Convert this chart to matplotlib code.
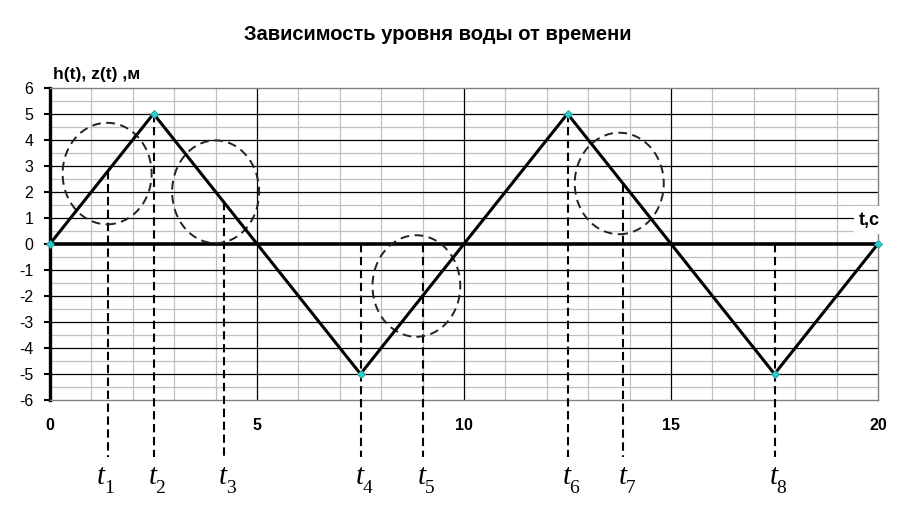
import matplotlib
matplotlib.use("Agg")
import matplotlib.pyplot as plt
from matplotlib.patches import Ellipse
import numpy as np

# ---- data ----
t_points = [0, 2.5, 7.5, 12.5, 17.5, 20]
h_points = [0, 5, -5, 5, -5, 0]

t_marks = [1.4, 2.5, 4.2, 7.5, 9.0, 12.5, 13.85, 17.5]
t_marks_top = [2.8, 5, 1.6, 0, 0, 5, 2.3, 0]
t_mark_labels = ["1", "2", "3", "4", "5", "6", "7", "8"]

circle_cx = [1.38, 4.0, 8.85, 13.75]
circle_cy = [2.7, 2.0, -1.62, 2.32]
circle_w = [2.15, 2.1, 2.12, 2.15]
circle_h = [3.9, 3.95, 3.9, 3.9]

x_ticks = [0, 5, 10, 15, 20]
y_ticks = list(range(-6, 7))

title = "Зависимость уровня воды от времени"
y_label = "h(t), z(t) ,м"
x_label = "t,c"

# ---- figure ----
plt.rcParams['font.family'] = ['Liberation Sans', 'DejaVu Sans']
fig = plt.figure(figsize=(9.01, 5.25), dpi=100)
ax = fig.add_axes([50/901, 1-400/525, 828/901, (400-87.7)/525])
ax.set_xlim(0, 20)
ax.set_ylim(-6, 6)

# grid
for x in np.arange(1, 20, 1):
    if x % 5 == 0:
        ax.axvline(x, color='black', lw=0.9, zorder=1)
    else:
        ax.axvline(x, color='#c0c0c0', lw=0.9, zorder=0.5)
for y in np.arange(-5.5, 6, 0.5):
    if float(y).is_integer():
        if y != 0:
            ax.axhline(y, color='black', lw=0.9, zorder=1)
    else:
        ax.axhline(y, color='#c0c0c0', lw=0.9, zorder=0.5)
ax.axhline(0, color='black', lw=2.6, zorder=2)

for s in ['top', 'right', 'bottom']:
    ax.spines[s].set_color('#808080')
    ax.spines[s].set_linewidth(1.0)
ax.spines['left'].set_color('black')
ax.spines['left'].set_linewidth(2.4)

ax.set_xticks(x_ticks)
ax.set_xticklabels([str(v) for v in x_ticks], fontweight='bold', fontsize=11.5)
ax.set_yticks(y_ticks)
ax.set_yticklabels([str(v) for v in y_ticks], fontsize=11.5)
ax.tick_params(axis='x', length=0, pad=13)
ax.tick_params(axis='y', length=4, width=1.5, pad=8, direction='out')

# dashed verticals
for tm, top in zip(t_marks, t_marks_top):
    ax.plot([tm, tm], [top, -8.2], color='black', lw=1.5,
            linestyle=(0, (4, 2.2)), clip_on=False, zorder=3)

# ellipses
for cx, cy, w, h in zip(circle_cx, circle_cy, circle_w, circle_h):
    e = Ellipse((cx, cy), w, h, fill=False, edgecolor='#222222', lw=1.4,
                linestyle=(0, (4.5, 2.8)), zorder=3)
    ax.add_patch(e)

# main line
ax.plot(t_points, h_points, color='black', lw=2.2, zorder=4)
ax.plot(t_points, h_points, linestyle='none', marker='D', markersize=4.5,
        markerfacecolor='#33cccc', markeredgecolor='#1a9999', markeredgewidth=0.6,
        clip_on=False, zorder=5)

# t labels
for i, (tm, lab) in enumerate(zip(t_marks, t_mark_labels)):
    shift = -6 if i == 0 else 0
    ax.annotate("t", xy=(tm, -6), xycoords='data', xytext=(-1 + shift, -84),
                textcoords='offset pixels', ha='center', va='baseline',
                fontsize=21, family='Liberation Serif', style='italic',
                annotation_clip=False)
    ax.annotate(lab, xy=(tm, -6), xycoords='data', xytext=(7 + shift, -93),
                textcoords='offset pixels', ha='center', va='baseline',
                fontsize=14, family='Liberation Serif', annotation_clip=False)

fig.text(438/901, 1-35/525, title, ha='center', va='center',
         fontsize=14.5, fontweight='bold')
fig.text(53/901, 1-74/525, y_label, ha='left', va='center',
         fontsize=12.5, fontweight='bold')
fig.text(880/901, 1-220/525, x_label, ha='right', va='center',
         fontsize=13, fontweight='bold',
         bbox=dict(boxstyle='square,pad=0.3', facecolor='white', edgecolor='none'))

fig.savefig("out.png", dpi=100)
